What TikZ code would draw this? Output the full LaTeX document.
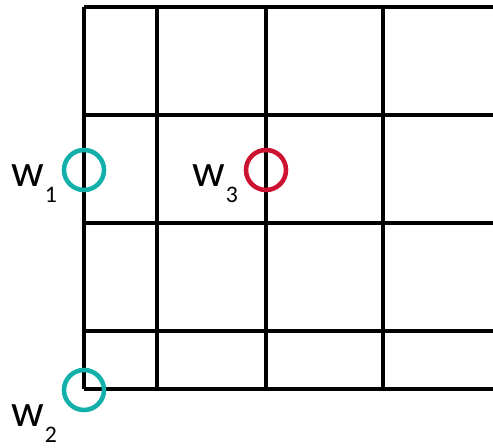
\documentclass[tikz,border=0pt]{standalone}
\usepackage{fontspec}
\setmainfont{Carlito}
\definecolor{w_teal}{RGB}{18, 176, 170}
\definecolor{w_red}{RGB}{204, 20, 50}
\newcommand{\wlabel}[1]{{\fontsize{26}{26}\selectfont w}\hspace{0.5pt}\raisebox{-9pt}{\fontsize{13.5}{13.5}\selectfont #1}}

\begin{document}
\begin{tikzpicture}[x=0.02cm, y=-0.02cm,
    gridline/.style={line width=2pt, black},
    ring/.style={circle, line width=2.6pt, minimum size=40*0.02cm, inner sep=0pt},
    wtext/.style={anchor=base west, inner sep=0pt}]
  \useasboundingbox (0,0) rectangle (493,448);
  % grid
  \foreach \gx in {84,157,266,383}
    \draw[gridline] (\gx,7) -- (\gx,389);
  \foreach \gy in {7,115,223,331,389}
    \draw[gridline] (84,\gy) -- (493,\gy);
  % weights
  \node[ring, draw=w_teal] (w1) at (84,170) {};
  \node[ring, draw=w_teal] (w2) at (84,390) {};
  \node[ring, draw=w_red] (w3) at (266,170) {};
  \node[wtext] (lbl1) at (11,187) {\wlabel{1}};
  \node[wtext] (lbl2) at (11,427) {\wlabel{2}};
  \node[wtext] (lbl3) at (192,187) {\wlabel{3}};
\end{tikzpicture}
\end{document}
